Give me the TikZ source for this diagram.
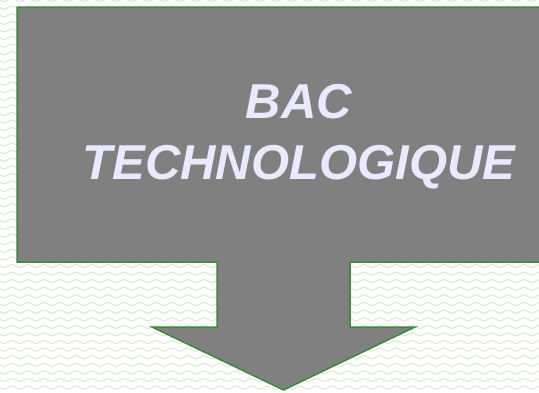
\documentclass[tikz,border=0pt]{standalone}
\usepackage{fontspec}
\setmainfont{Liberation Sans}
\usepackage{xcolor}
\usetikzlibrary{positioning}

\definecolor{boxgray}{HTML}{808080}
\definecolor{edgegreen}{HTML}{3C8A3C}
\definecolor{wavegreen}{HTML}{DCEED2}
\definecolor{titlelav}{HTML}{EAEAFF}

\begin{document}
\begin{tikzpicture}[x=1bp, y=-1bp,
  wave/.style={wavegreen, line width=1.2bp},
  callout/.style={fill=boxgray, draw=edgegreen, line width=1.5bp, line join=miter},
  title/.style={text=titlelav, align=center,
    font=\fontsize{49bp}{61bp}\selectfont\bfseries\itshape}]
  \useasboundingbox (0,0) rectangle (539,392);
  \clip (0,0) rectangle (539,392);

  % Background waves
  \foreach \r in {0,...,52} {
    \draw[wave] plot[domain=-4:545, samples=300]
      (\x, {\r*7.6 + 1.5*sin(\x*22.5)});
  }

  % Down arrow callout
  \draw[callout] (17,7) -- (552,7) -- (552,262) -- (350,262) -- (350,327)
    -- (415,327) -- (283.5,390) -- (152,327) -- (217,327) -- (217,262)
    -- (17,262) -- cycle;

  % Title
  \node[title] (bac) at (299,137) {BAC\\TECHNOLOGIQUE};
\end{tikzpicture}
\end{document}
